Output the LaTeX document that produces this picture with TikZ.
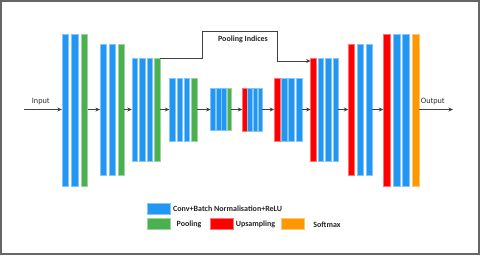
\documentclass[tikz,border=0pt]{standalone}
\usepackage{fontspec}
\setmainfont{Carlito}
\usetikzlibrary{arrows.meta}
\definecolor{cblue}{HTML}{2196F3}
\definecolor{cgreen}{HTML}{4CAF50}
\definecolor{cred}{HTML}{FF0000}
\definecolor{corange}{HTML}{FF9800}
\definecolor{cline}{HTML}{404040}
\tikzset{
  bar/.style={rectangle, inner sep=0pt, outer sep=0pt, draw=#1!55!white, line width=0.4pt, fill=#1},
  conn/.style={draw=cline, line width=0.8pt, -{Stealth[length=4.5pt,width=4pt]}},
  lbox/.style={rectangle, inner sep=0pt, minimum width=22.7pt, minimum height=11pt, draw=#1!55!white, line width=0.5pt, fill=#1},
  ltext/.style={font=\fontsize{8}{9}\selectfont\bfseries, text=black!85, inner sep=0pt},
  iotext/.style={font=\fontsize{8.2}{9}\selectfont, text=black!80, inner sep=0pt}
}
\newcommand{\mybar}[6]{\node[bar=#2, minimum width=#4pt, minimum height=#5pt] (#1) at (#3,#6) {};}
\begin{document}
\begin{tikzpicture}[x=1pt,y=-1pt]
\path[use as bounding box, fill=white] (0,0) rectangle (480,255);
\draw[gray!80!black, line width=1.6pt] (0.8,0.8) rectangle (479.2,254.2);
% block 1
\mybar{b1a}{cblue}{65.2}{6.8}{152}{110}
\mybar{b1b}{cblue}{74.4}{6.8}{152}{110}
\mybar{b1c}{cgreen}{84.2}{6.8}{152}{110}
% block 2
\mybar{b2a}{cblue}{103}{6.2}{131.3}{109.7}
\mybar{b2b}{cblue}{112}{6.2}{131.3}{109.7}
\mybar{b2c}{cgreen}{121}{6.2}{131.3}{109.7}
% block 3
\mybar{b3a}{cblue}{134.7}{5.8}{102.4}{109.5}
\mybar{b3b}{cblue}{142.2}{5.8}{102.4}{109.5}
\mybar{b3c}{cblue}{149.7}{5.8}{102.4}{109.5}
\mybar{b3d}{cgreen}{157.2}{5.8}{102.4}{109.5}
% block 4
\mybar{b4a}{cblue}{172.2}{5.6}{62.4}{109.5}
\mybar{b4b}{cblue}{179.5}{5.6}{62.4}{109.5}
\mybar{b4c}{cblue}{186.8}{5.6}{62.4}{109.5}
\mybar{b4d}{cgreen}{194.2}{5.6}{62.4}{109.5}
% block 5
\mybar{b5a}{cblue}{213}{4.7}{42}{109.3}
\mybar{b5b}{cblue}{218.4}{4.7}{42}{109.3}
\mybar{b5c}{cblue}{223.8}{4.7}{42}{109.3}
\mybar{b5d}{cgreen}{229}{4.2}{42}{109.3}
% block 6
\mybar{b6a}{cred}{244.5}{4.4}{42.4}{109.5}
\mybar{b6b}{cblue}{249.8}{4.4}{42.4}{109.5}
\mybar{b6c}{cblue}{255}{4.4}{42.4}{109.5}
\mybar{b6d}{cblue}{260.2}{4.4}{42.4}{109.5}
% block 7
\mybar{b7a}{cred}{277}{5.8}{62.4}{109.5}
\mybar{b7b}{cblue}{284.3}{5.8}{62.4}{109.5}
\mybar{b7c}{cblue}{291.5}{5.8}{62.4}{109.5}
\mybar{b7d}{cblue}{298.8}{5.8}{62.4}{109.5}
% block 8
\mybar{b8a}{cred}{313.4}{5.6}{102.4}{109.5}
\mybar{b8b}{cblue}{320.8}{5.6}{102.4}{109.5}
\mybar{b8c}{cblue}{328.3}{5.6}{102.4}{109.5}
\mybar{b8d}{cblue}{335.6}{5.6}{102.4}{109.5}
% block 9
\mybar{b9a}{cred}{351.3}{6}{131.3}{109.7}
\mybar{b9b}{cblue}{360.3}{6}{131.3}{109.7}
\mybar{b9c}{cblue}{369}{6}{131.3}{109.7}
% block 10
\mybar{b10a}{cred}{386.8}{7}{152}{110}
\mybar{b10b}{cblue}{396.5}{7}{152}{110}
\mybar{b10c}{cblue}{405.8}{7}{152}{110}
\mybar{b10d}{corange}{415.5}{7}{152}{110}
% input / output
\coordinate (in) at (24,109.5);
\coordinate (out) at (453,109.5);
\node[iotext] (tin) at (40.8,101.8) {Input};
\node[iotext] (tout) at (432.8,101.8) {Output};
\draw[conn] (in) -- (in -| b1a.west);
\draw[conn] (b10d.east |- out) -- (out);
% block connectors
\draw[conn] (b1c.east |- in) -- (b2a.west |- in);
\draw[conn] (b2c.east |- in) -- (b3a.west |- in);
\draw[conn] (b3d.east |- in) -- (b4a.west |- in);
\draw[conn] (b4d.east |- in) -- (b5a.west |- in);
\draw[conn] (b5d.east |- in) -- (b6a.west |- in);
\draw[conn] (b6d.east |- in) -- (b7a.west |- in);
\draw[conn] (b7d.east |- in) -- (b8a.west |- in);
\draw[conn] (b8d.east |- in) -- (b9a.west |- in);
\draw[conn] (b9c.east |- in) -- (b10a.west |- in);
% pooling indices
\coordinate (p1) at (202,58.3);
\coordinate (p2) at (202,31);
\coordinate (p3) at (277,31);
\coordinate (p4) at (277,61);
\draw[conn] (b3d.north east) -- (p1) -- (p2) -- (p3) -- (p4) -- (p4 -| b8a.west);
\node[ltext] (pidx) at (243,39.5) {Pooling Indices};
% legend
\node[lbox=cblue] (lb) at (158.7,208.5) {};
\node[ltext, anchor=west] (lbt) at (173,208.5) {Conv+Batch Normalisation+ReLU};
\node[lbox=cgreen] (lg) at (158.7,224.2) {};
\node[ltext] (lgt) at (189,224.5) {Pooling};
\node[lbox=cred] (lr) at (222,224.2) {};
\node[ltext] (lrt) at (255.5,224.5) {Upsampling};
\node[lbox=corange] (lo) at (293,224.2) {};
\node[ltext] (lot) at (327,224.5) {Softmax};
\end{tikzpicture}
\end{document}
